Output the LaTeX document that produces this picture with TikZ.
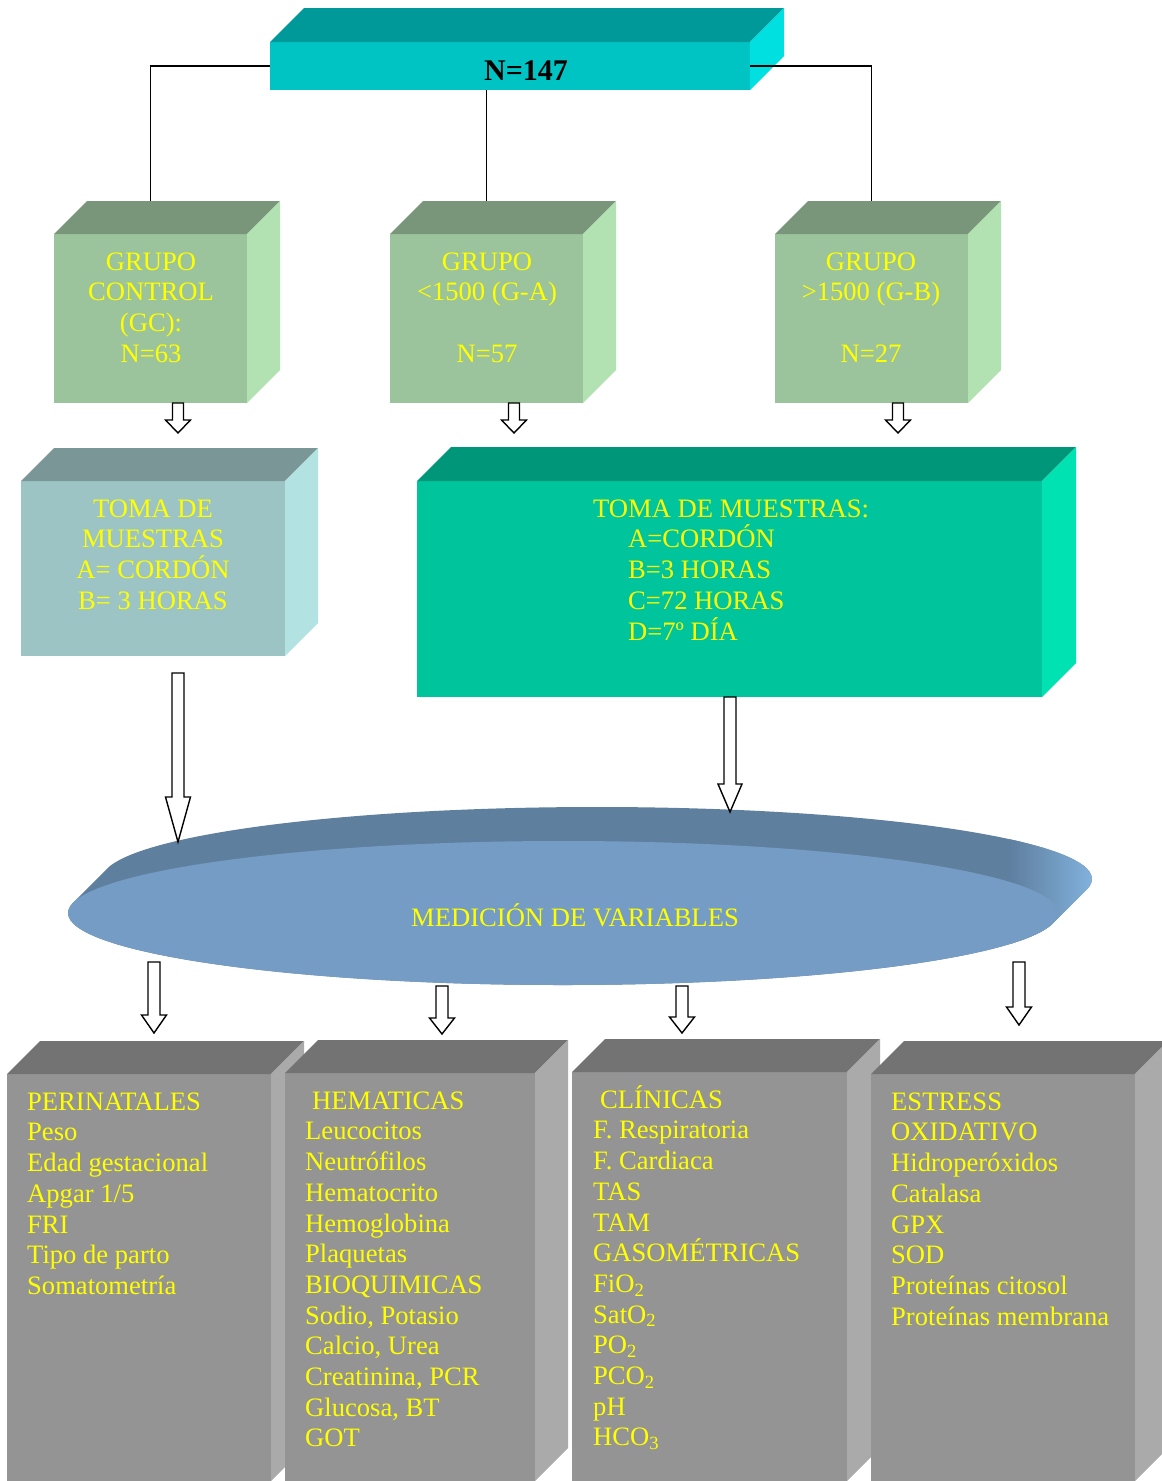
\documentclass[tikz,border=0pt]{standalone}
\usepackage{fontspec}
\setmainfont{Liberation Serif}
\usetikzlibrary{calc,shapes.geometric}
\definecolor{cyF}{HTML}{00C4C4}
\definecolor{cyT}{HTML}{009999}
\definecolor{cyR}{HTML}{00E0E0}
\definecolor{grF}{HTML}{9CC49C}
\definecolor{grT}{HTML}{7A967A}
\definecolor{grR}{HTML}{B2E2B2}
\definecolor{tlF}{HTML}{9CC4C4}
\definecolor{tlT}{HTML}{7A9696}
\definecolor{tlR}{HTML}{B2E2E2}
\definecolor{tmF}{HTML}{00C49C}
\definecolor{tmT}{HTML}{00967A}
\definecolor{tmR}{HTML}{00E2B2}
\definecolor{gyF}{HTML}{949494}
\definecolor{gyT}{HTML}{737373}
\definecolor{gyR}{HTML}{AAAAAA}
\definecolor{elF}{HTML}{759CC4}
\definecolor{elT}{HTML}{5F7F9F}
\definecolor{elL}{HTML}{84B6E2}
\definecolor{txtY}{HTML}{FFFF00}
\newcommand\txtfont{\fontsize{26.6pt}{30.7pt}\selectfont\lineskiplimit=-60pt\relax}
\newcommand\bigbold{\bfseries\fontsize{30pt}{34pt}\selectfont}
\newcommand\fstrut{\rule{0pt}{25pt}}
\newcommand\mkbox[9]{%
  \node[facebox, minimum width=#4pt, minimum height=#5pt, fill=#6] (#1) at (#2,#3) {};
  \fill[#7] (#1.north west) -- ++(#9,-#9) -- ($(#1.north east)+(#9,-#9)$) -- (#1.north east) -- cycle;
  \fill[#8] (#1.north east) -- ++(#9,-#9) -- ($(#1.south east)+(#9,-#9)$) -- (#1.south east) -- cycle;
}
\newcommand\harrow[5]{%
  \draw[hollowarrow] ($(#1)+(-#3,0)$) -- ($(#2)+(-#3,-#5)$) -- ($(#2)+(-#4,-#5)$) -- (#2)
    -- ($(#2)+(#4,-#5)$) -- ($(#2)+(#3,-#5)$) -- ($(#1)+(#3,0)$) -- cycle;
}
\begin{document}
\begin{tikzpicture}[x=1pt,y=-1pt,
  facebox/.style={inner sep=0pt, outer sep=0pt, anchor=north west},
  txt/.style={text=txtY, inner sep=0pt, font=\txtfont},
  conn/.style={draw=black, line width=1.4pt},
  hollowarrow/.style={draw=black, fill=white, line width=1.4pt, line join=miter}]
\useasboundingbox (0,0) rectangle (1162,1481);
\clip (0,0) rectangle (1162,1481);

% top box
\mkbox{top}{270}{42}{480}{48}{cyF}{cyT}{cyR}{34}
\node[inner sep=0pt, anchor=base, font=\bigbold] (toplbl) at (526,80) {N=147};

% group boxes
\mkbox{gc}{54}{234}{193}{169}{grF}{grT}{grR}{33}
\mkbox{ga}{390}{234}{193}{169}{grF}{grT}{grR}{33}
\mkbox{gb}{775}{234}{193}{169}{grF}{grT}{grR}{33}
\node[txt, align=center, anchor=north] (gct) at (151,245) {\fstrut GRUPO\\CONTROL\\(GC):\\N=63};
\node[txt, align=center, anchor=north] (gat) at (487,245) {\fstrut GRUPO\\<1500 (G-A)\\\strut\\N=57};
\node[txt, align=center, anchor=north] (gbt) at (871,245) {\fstrut GRUPO\\>1500 (G-B)\\\strut\\N=27};

% connectors from top box
\draw[conn] (top.west) -| ($(gc.north)+(0,-33)$);
\draw[conn] (top.south -| ga.north) -- ($(ga.north)+(0,-33)$);
\draw[conn] (top.east) -| ($(gb.north)+(0,-33)$);

% sample boxes
\mkbox{tl}{21}{481}{264}{175}{tlF}{tlT}{tlR}{33}
\mkbox{tr}{417}{481}{625}{216}{tmF}{tmT}{tmR}{34}
\node[txt, align=center, anchor=north] (tlt) at (153,492) {\fstrut TOMA DE\\MUESTRAS\\A= CORDÓN\\B= 3 HORAS};
\node[txt, align=left, anchor=north west] (trt) at (593,492) {\fstrut TOMA DE MUESTRAS:\\\hspace*{35pt}A=CORDÓN\\\hspace*{35pt}B=3 HORAS\\\hspace*{35pt}C=72 HORAS\\\hspace*{35pt}D=7º DÍA};

% small arrows
\coordinate (a1s) at (178,403); \coordinate (a1e) at (178,433);
\coordinate (a2s) at (514,403); \coordinate (a2e) at (514,433);
\coordinate (a3s) at (898,403); \coordinate (a3e) at (898,433);
\harrow{a1s}{a1e}{5.5}{12.5}{13}
\harrow{a2s}{a2e}{5.5}{12.5}{13}
\harrow{a3s}{a3e}{5.5}{12.5}{13}

% disc
\fill[elT] \foreach \i in {0,2,...,34}{ (563+\i,913-\i) ellipse [x radius=495pt, y radius=72pt] };
\begin{scope}
  \clip \foreach \i in {0,2,...,34}{ (563+\i,913-\i) ellipse [x radius=495pt, y radius=72pt] };
  \shade[left color=elT, right color=elL] (1010,790) rectangle (1100,990);
\end{scope}
\node[ellipse, fill=elF, minimum width=990pt, minimum height=144pt, inner sep=0pt] (med) at (563,913) {};
\node[txt, anchor=base] (medl) at (575,926) {MEDICIÓN DE VARIABLES};

% long arrows
\coordinate (b1s) at (178,673); \coordinate (b1e) at (178,842);
\coordinate (b2s) at (730,697); \coordinate (b2e) at (730,812);
\harrow{b1s}{b1e}{6}{12.5}{45}
\harrow{b2s}{b2e}{6}{12}{28}

% bottom arrows
\coordinate (c1s) at (154,962); \coordinate (c1e) at (154,1033);
\coordinate (c2s) at (442,986); \coordinate (c2e) at (442,1034);
\coordinate (c3s) at (682,986); \coordinate (c3e) at (682,1033);
\coordinate (c4s) at (1019,962); \coordinate (c4e) at (1019,1025);
\harrow{c1s}{c1e}{6}{12.5}{18}
\harrow{c2s}{c2e}{6}{12.5}{16}
\harrow{c3s}{c3e}{6}{12.5}{16}
\harrow{c4s}{c4e}{6}{12.5}{18}

% bottom boxes
\mkbox{bp}{7}{1074}{264}{407}{gyF}{gyT}{gyR}{33}
\mkbox{bh}{285}{1073}{250}{408}{gyF}{gyT}{gyR}{33}
\mkbox{bc}{572}{1072}{275}{409}{gyF}{gyT}{gyR}{33}
\mkbox{be}{871}{1074}{264}{407}{gyF}{gyT}{gyR}{33}

\node[txt, align=left, anchor=north west] (bpt) at (27,1085) {\fstrut PERINATALES\\Peso\\Edad gestacional\\Apgar 1/5\\FRI\\Tipo de parto\\Somatometría};
\node[txt, align=left, anchor=north west] (bht) at (305,1084) {\fstrut\hspace*{7pt}HEMATICAS\\Leucocitos\\Neutrófilos\\Hematocrito\\Hemoglobina\\Plaquetas\\BIOQUIMICAS\\Sodio, Potasio\\Calcio, Urea\\Creatinina, PCR\\Glucosa, BT\\GOT};
\node[txt, align=left, anchor=north west] (bct) at (593,1083) {\fstrut\hspace*{7pt}CLÍNICAS\\F. Respiratoria\\F. Cardiaca\\TAS\\TAM\\GASOMÉTRICAS\\FiO\textsubscript{2}\\SatO\textsubscript{2}\\PO\textsubscript{2}\\PCO\textsubscript{2}\\pH\\HCO\textsubscript{3}};
\node[txt, align=left, anchor=north west] (bet) at (891,1085) {\fstrut ESTRESS\\OXIDATIVO\\Hidroperóxidos\\Catalasa\\GPX\\SOD\\Proteínas citosol\\Proteínas membrana};
\end{tikzpicture}
\end{document}
